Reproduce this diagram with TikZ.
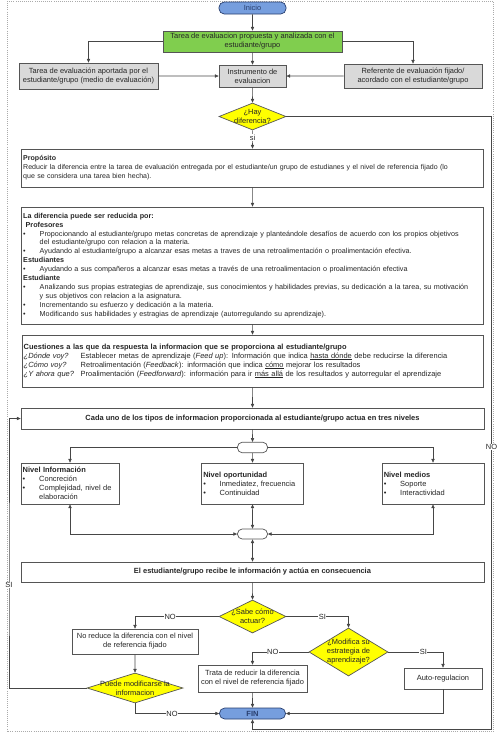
\documentclass[tikz,border=0pt]{standalone}
\usepackage{fontspec}
\setmainfont{Liberation Sans}
\usetikzlibrary{shapes.geometric,arrows.meta}
\definecolor{txtgray}{RGB}{38,38,38}
\definecolor{boxline}{RGB}{85,85,85}
\definecolor{linegray}{RGB}{70,70,70}
\definecolor{bordergray}{RGB}{170,170,170}
\definecolor{boxgray}{RGB}{217,217,217}
\definecolor{taskgreen}{RGB}{128,206,78}
\definecolor{capblue}{RGB}{118,158,222}
\definecolor{capline}{RGB}{40,62,110}
\definecolor{decyellow}{RGB}{255,255,0}
\newcommand{\bulitem}[1]{\par\noindent\makebox[0.66cm][l]{\textbullet}#1\par}
\newcommand{\bulcont}[1]{\par\noindent\hspace*{0.66cm}#1\par}
\newcommand{\askcol}[1]{\makebox[2.28cm][l]{\textit{#1}}}
\begin{document}
\begin{tikzpicture}[scale=0.4]
\tikzstyle{every node}+=[inner sep=0pt,font=\fontsize{8.5}{10.2}\selectfont,text=txtgray]
\tikzstyle{box}=[rectangle,draw=boxline,line width=0.8pt,fill=white,align=center]
\tikzstyle{textbox}=[box,align=left,inner xsep=0.07cm]
\tikzstyle{graybox}=[box,fill=boxgray]
\tikzstyle{capsule}=[rectangle,rounded corners=0.21cm,draw=capline,fill=capblue,line width=0.8pt,text=capline]
\tikzstyle{joint}=[rectangle,rounded corners=0.19cm,draw=boxline,fill=white,line width=0.8pt,minimum width=1.2cm,minimum height=0.42cm]
\tikzstyle{decision}=[diamond,draw=boxline,fill=decyellow,line width=0.8pt]
\tikzstyle{link}=[draw=linegray,line width=0.6pt,-{Triangle[length=1.5mm,width=1.3mm]}]
\tikzstyle{bilink}=[link,{Triangle[length=1.5mm,width=1.3mm]}-{Triangle[length=1.5mm,width=1.3mm]}]
\tikzstyle{lbl}=[fill=white,inner sep=0.6pt]
\useasboundingbox (0,0) rectangle (50.3,-73.3);
\draw[dotted,bordergray] (0.7,-0.1) rectangle (49.35,-73.15);
\node[capsule,minimum width=2.68cm,minimum height=0.48cm] (inicio) at (25.25,-0.8) {Inicio};
\node[graybox,fill=taskgreen,minimum width=7.16cm,minimum height=0.84cm] (tarea) at (25.25,-4.15) {Tarea de evaluacion propuesta y analizada con el\\estudiante/grupo};
\node[graybox,minimum width=5.56cm,minimum height=1.04cm] (aportada) at (8.85,-7.6) {Tarea de evaluación aportada por el\\estudiante/grupo (medio de evaluación)};
\node[graybox,minimum width=2.68cm,minimum height=0.88cm] (instrumento) at (25.25,-7.6) {Instrumento de\\evaluacion};
\node[graybox,minimum width=5.52cm,minimum height=0.96cm] (referente) at (41.3,-7.6) {Referente de evaluación fijado/\\acordado con el estudiante/grupo};
\node[decision,minimum width=2.68cm,minimum height=1.08cm,label={[align=center]center:¿Hay\\diferencia?}] (hay) at (25.25,-11.65) {};
\node[textbox,text width=18.34cm,minimum height=1.52cm,font=\fontsize{8}{10.2}\selectfont] (proposito) at (25.25,-16.8) {\textbf{Propósito}\\Reducir la diferencia entre la tarea de evaluación entregada por el estudiante/un grupo de estudianes y el nivel de referencia fijado (lo\\que se considera una tarea bien hecha).};
\node[textbox,text width=18.34cm,minimum height=4.68cm,font=\fontsize{8.2}{10.2}\selectfont] (diferencia) at (25.25,-26.55) {\textbf{La diferencia puede ser reducida por:}\par
\textbf{\ Profesores}\par
\bulitem{Propocionando al estudiante/grupo metas concretas de aprendizaje y planteándole desafíos de acuerdo con los propios objetivos}
\bulcont{del estudiante/grupo con relacion a la materia.}
\bulitem{Ayudando al estudiante/grupo a alcanzar esas metas a traves de una retroalimentación o proalimentación efectiva.}
\textbf{Estudiantes}\par
\bulitem{Ayudando a sus compañeros a alcanzar esas metas a través de una retroalimentacion o proalimentación efectiva}
\textbf{Estudiante}\par
\bulitem{Analizando sus propias estrategias de aprendizaje, sus conocimientos y habilidades previas, su dedicación a la tarea, su motivación}
\bulcont{y sus objetivos con relacion a la asignatura.}
\bulitem{Incrementando su esfuerzo y dedicación a la materia.}
\bulitem{Modificando sus habilidades y estragias de aprendizaje (autorregulando su aprendizaje).}};
\node[textbox,text width=18.3cm,minimum height=2.08cm] (cuestiones) at (25.25,-36.1) {\textbf{Cuestiones a las que da respuesta la informacion que se proporciona al estudiante/grupo}\\
\askcol{¿Dónde voy?}Establecer metas de aprendizaje (\textit{Feed up}): Información que indica \underline{hasta dónde} debe reducirse la diferencia\\
\askcol{¿Cómo voy?}Retroalimentación (\textit{Feedback}): información que indica \underline{cómo} mejorar los resultados\\
\askcol{¿Y ahora que?}Proalimentación (\textit{Feedforward}): información para ir \underline{más allá} de los resultados y autorregular el aprendizaje};
\node[box,minimum width=18.52cm,minimum height=0.84cm] (cada) at (25.25,-41.85) {\textbf{Cada uno de los tipos de informacion proporcionada al estudiante/grupo actua en tres niveles}};
\node[joint] (joint1) at (25.25,-44.75) {};
\node[textbox,text width=3.78cm,minimum height=1.64cm] (nivInfo) at (7.0,-48.35) {\textbf{Nivel Información}\par\bulitem{Concreción}\bulitem{Complejidad, nivel de}\bulcont{elaboración}};
\node[textbox,text width=3.94cm,minimum height=1.64cm] (nivOport) at (25.25,-48.35) {\textbf{Nivel oportunidad}\par\bulitem{Inmediatez, frecuencia}\bulitem{Continuidad}};
\node[textbox,text width=3.94cm,minimum height=1.64cm] (nivMedios) at (43.3,-48.35) {\textbf{Nivel medios}\par\bulitem{Soporte}\bulitem{Interactividad}};
\node[joint,minimum height=0.4cm] (joint2) at (25.25,-53.4) {};
\node[box,minimum width=18.52cm,minimum height=0.8cm] (estudiante) at (25.25,-57.2) {\textbf{El estudiante/grupo recibe le información y actúa en consecuencia}};
\node[decision,minimum width=2.68cm,minimum height=1.32cm,label={[align=center]center:¿Sabe cómo\\actuar?}] (sabe) at (25.25,-61.65) {};
\node[box,minimum width=5.04cm,minimum height=1.0cm] (noreduce) at (13.5,-64.15) {No reduce la diferencia con el nivel\\de referencia fijado};
\node[decision,minimum width=3.16cm,minimum height=1.92cm,label={[align=center]center:¿Modifica su\\estrategia de\\aprendizaje?}] (modifica) at (34.85,-65.2) {};
\node[box,minimum width=4.36cm,minimum height=1.08cm] (trata) at (25.25,-67.85) {Trata de reducir la diferencia\\con el nivel de referencia fijado};
\node[box,minimum width=3.12cm,minimum height=0.84cm] (auto) at (44.3,-67.85) {Auto-regulacion};
\node[decision,minimum width=3.84cm,minimum height=1.2cm,label={[align=center]center:Puede modificarse la\\informacion}] (puede) at (13.5,-68.8) {};
\node[capsule,minimum width=2.64cm,minimum height=0.44cm] (fin) at (25.25,-71.35) {\textbf{FIN}};
\coordinate (noturn) at (49.15,-72.95);
\coordinate (siturn) at (0.9,-58.5);
\draw[link] (inicio) -- (tarea);
\draw[link] (tarea.west) -| (aportada.north);
\draw[link] (tarea.east) -| (referente.north);
\draw[link] (tarea) -- (instrumento);
\draw[link] (aportada) -- (instrumento);
\draw[link] (referente) -- (instrumento);
\draw[link] (instrumento) -- (hay);
\draw[link] (hay) -- node[lbl,pos=0.4] (hayLbl) {si} (proposito);
\draw[link] (hay.east) -| (noturn) -| (fin.south);
\node[lbl] (noLbl) at (49.15,-44.7) {NO};
\draw[link] (proposito) -- (diferencia);
\draw[link] (diferencia) -- (cuestiones);
\draw[link] (cuestiones) -- (cada);
\draw[link] (cada) -- (joint1);
\draw[link] (joint1.west) -| (nivInfo.north);
\draw[link] (joint1.east) -| (nivMedios.north);
\draw[link] (joint1) -- (nivOport);
\draw[bilink] (nivInfo.south) |- (joint2.west);
\draw[bilink] (nivMedios.south) |- (joint2.east);
\draw[bilink] (nivOport) -- (joint2);
\draw[bilink] (joint2) -- (estudiante);
\draw[link] (estudiante) -- (sabe);
\draw[link] (sabe.west) -| node[lbl,pos=0.29] (noSabe) {NO} (noreduce.north);
\draw[link] (sabe.east) -| node[lbl,pos=0.29] (siSabe) {SI} (modifica.north);
\draw[link] (modifica.west) -| node[lbl,pos=0.32] (noMod) {NO} (trata.north);
\draw[link] (modifica.east) -| node[lbl,pos=0.32] (siMod) {SI} (auto.north);
\draw[link] (noreduce) -- (puede);
\draw[link] (puede.west) -| (siturn) |- (cada.west);
\node[lbl] (siLbl) at (siturn) {SI};
\draw[link] (puede.south) |- node[lbl,pos=0.72] (noPuede) {NO} (fin.west);
\draw[link] (trata) -- (fin);
\draw[link] (auto.south) |- (fin.east);
\end{tikzpicture}
\end{document}
